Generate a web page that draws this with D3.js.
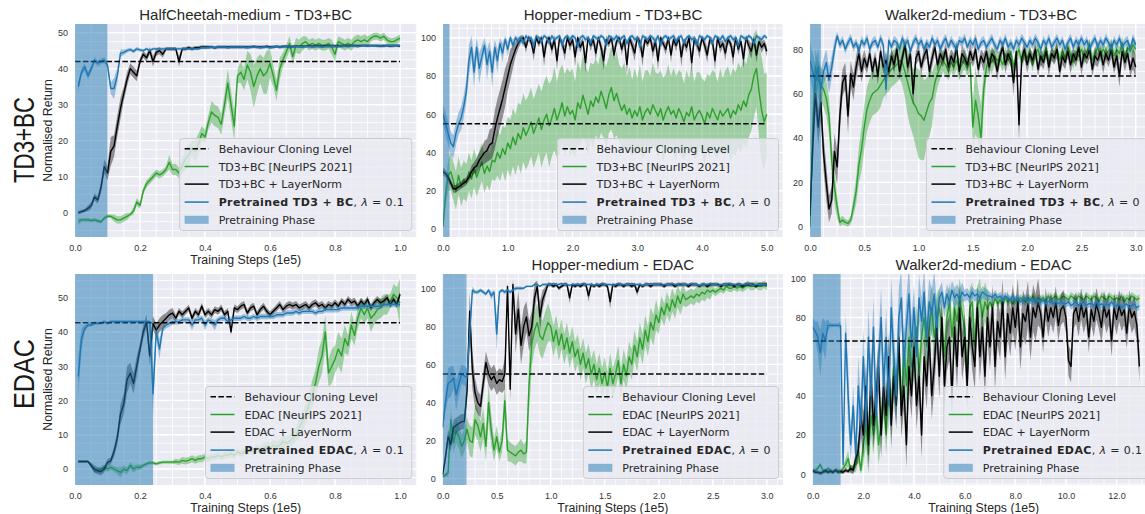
<!DOCTYPE html>
<html>
<head>
<meta charset="utf-8">
<script src="https://cdn.jsdelivr.net/npm/d3@7/dist/d3.min.js"></script>
<style>
html,body{margin:0;padding:0;background:#fff;}
svg{display:block;}
</style>
</head>
<body>
<svg id="chart" width="1145" height="514" xmlns="http://www.w3.org/2000/svg"></svg>
<script>
// ================= DATA =================
// --- HalfCheetah-medium TD3+BC (x: 0.01..1.00, step 0.01, units 1e5) ---
const hcTd3Green = [-2.5,-2,-2,-2,-2.2,-2,-2.3,-2.5,-1.5,-1,
-1,-1.5,-2,-2,-1.5,-1,-0.5,0.5,3,2,
6,8,9,10,11,10.5,11,12,14,12,
12,11,13,15,16,18,17,19,22,21,
25,28,27,26.5,24.5,30,36,30,24,38,
39,37,41,39,35,38,40,38,39,41.5,
38,34,40,42.5,44.7,47,43.3,46.5,46,47,
47.5,46.5,47,46.5,47,46.5,46.5,47,46,44,
47.5,47,46.5,47,46.5,47.5,48,47.5,48,47.5,
48.5,49,49,48.5,49,48,47.5,47.5,48,48.5];
const hcTd3GreenSd = [1,0.5,0.5,0.5,0.5,0.5,0.5,0.5,0.5,0.5,
0.5,1,1,1,1,1,0.5,1,1,1,
1,1,1,1,1,1,1,1,2,1.5,
1.5,1.5,2,3,3,2,3,3,2,2,
2,3,3,3,3,3,4,4,4,2,
3,3,4,5,6,5,4,5,6,4,
3,3,3,2,2,2,2,2,2,2,
1.5,1.5,1.5,1.5,1.5,1.5,1.5,1.5,2,2,
1.5,1.5,1.5,1.5,1.5,1.5,1.5,1.5,1.5,1.5,
1,1,1,1,1,1,1,1,1,1];
const hcTd3Black = [0,0.3,0.6,1.2,2,4.4,3.5,7,12.8,11,
17,18.5,24,29,33,37,40,39,38,42,
44,43,45,42,44.5,45,44,45.5,45.5,45.5,
45.5,42,45.5,45.5,45.8,45.5,45.8,45.8,46,46,
46,46,45.8,46,46,46,46,46,46,46,
46,46,46,46,46.2,46,46,46,46.2,46,
46,46.2,46,46.2,46.2,46,46.2,46.2,46.2,46.2,
46.2,46.3,46.2,46.3,46.3,46.2,46.3,46.3,46.3,46.3,
46.3,46.3,46.4,46.3,46.4,46.4,46.3,46.4,46.4,46.4,
46.4,46.4,46.4,46.3,46.4,46.4,46.3,46.4,46.4,46.3];
const hcTd3BlackSd = [0.5,0.5,0.5,0.8,1,1,1,1.5,2,2,
4,3,3,3,2,2,1.5,1.5,1.5,1,
1,1,1,1.5,1,1,1,0.5,0.5,0.5,
0.5,1.5,0.5,0.5,0.5,0.5,0.5,0.5,0.5,0.5,
0.4,0.4,0.4,0.4,0.4,0.4,0.4,0.4,0.4,0.4,
0.4,0.4,0.4,0.4,0.4,0.4,0.4,0.4,0.4,0.4,
0.4,0.4,0.4,0.4,0.4,0.4,0.4,0.4,0.4,0.4,
0.4,0.4,0.4,0.4,0.4,0.4,0.4,0.4,0.4,0.4,
0.4,0.4,0.4,0.4,0.4,0.4,0.4,0.4,0.4,0.4,
0.4,0.4,0.4,0.4,0.4,0.4,0.4,0.4,0.4,0.4];
const hcTd3Blue = [35,39,40.5,38,40,42.4,41.5,42,42.4,41,
34.5,34.5,38,44.3,44.5,45,45.3,44.8,45.5,45.2,
45,45.5,45,45.5,45.5,45.5,45.5,45.5,45.5,45.5,
45.5,45.5,45.5,45.5,45.5,45.5,45.5,45.5,45.8,45.8,
45.8,46,45.8,46,46,46,45.8,46,46,46,
46,46,45.8,46,46,46,45.8,46,46,45.8,
46,46.2,46,46,46.2,46,46,46.2,46.2,46,
46.2,46.2,46,46.2,46.2,46,46.2,46.2,46.3,46.2,
46.2,46.3,46.3,46.2,46.4,46.3,46.2,46.4,46.4,46.3,
46.4,46.4,46.3,46.4,46.2,46.5,46.4,46.3,46.5,46.4];
const hcTd3BlueSd = [1.5,1,1,1,1,0.8,0.8,0.8,0.8,0.8,
1.5,3,2,1,0.8,0.5,0.5,0.5,0.5,0.5,
0.4,0.4,0.4,0.4,0.4,0.4,0.4,0.4,0.4,0.4,
0.4,0.4,0.4,0.4,0.4,0.4,0.4,0.4,0.4,0.4,
0.4,0.4,0.4,0.4,0.4,0.4,0.4,0.4,0.4,0.4,
0.4,0.4,0.4,0.4,0.4,0.4,0.4,0.4,0.4,0.4,
0.4,0.4,0.4,0.4,0.4,0.4,0.4,0.4,0.4,0.4,
0.4,0.4,0.4,0.4,0.4,0.4,0.4,0.4,0.4,0.4,
0.4,0.4,0.4,0.4,0.4,0.4,0.4,0.4,0.4,0.4,
0.4,0.4,0.4,0.4,0.4,0.4,0.4,0.4,0.4,0.4];

// --- Hopper-medium TD3+BC (x: 0..5.0, step 0.04) ---
const hopTd3Green = [1,18,28,30,25,20,28,22,26,24,
30,26,32,27,31,35,29,33,30,36,
35,40,37,42,39,45,42,48,44,50,
47,53,49,52,56,50,54,58,52,57,
60,54,58,63,57,61,66,59,64,60,
62,57,66,63,70,65,60,67,64,69,
66,72,68,63,70,74,67,71,66,62,
65,60,63,58,62,59,64,57,61,63,
60,65,62,59,63,57,61,64,60,62,
58,63,60,56,61,59,64,57,60,62,
59,55,61,58,63,60,57,62,59,61,
63,58,62,60,65,62,67,64,70,73,
80,84,72,62,56,60];
const hopTd3GreenSd = [1,6,8,10,10,10,10,10,10,10,
10,10,10,10,10,10,10,10,10,10,
10,12,12,12,14,14,15,15,16,16,
18,18,18,18,18,18,18,18,20,20,
20,22,20,22,20,22,20,22,20,22,
22,20,22,20,22,20,22,20,22,20,
20,22,20,22,20,22,20,22,20,22,
22,20,22,20,22,20,22,20,22,20,
20,22,20,22,20,22,20,22,20,22,
22,20,22,20,22,20,22,20,22,20,
20,22,20,22,20,22,20,22,20,22,
22,22,22,22,22,22,22,22,22,22,
22,20,25,28,25,22];
const hopTd3Black = [30,29,27,24,21,21,22,23,24,25,
27,30,32,33,36,38,40,41,44,45,
52,58,63,68,74,80,86,90,94,97,
99,100,95,100,98,92,100,97,100,90,
98,100,94,99,88,100,97,92,100,96,
99,90,100,95,98,87,100,96,99,92,
100,95,88,99,97,100,91,98,100,94,
99,86,100,96,92,100,98,90,99,97,
100,93,98,88,100,97,94,100,91,99,
96,100,90,98,95,100,87,99,97,93,
100,96,91,99,98,88,100,95,97,92,
99,97,90,100,94,98,89,100,96,93,
99,91,98,95,97,93];
const hopTd3BlackSd = [2,2,2,2,2,2,2,2,2,2,
2,3,3,4,4,5,6,6,8,8,
10,10,10,10,10,8,8,6,4,3,
2,1.5,3,1.5,2,4,1.5,2,1.5,5,
2,1.5,3,2,5,1.5,2,4,1.5,3,
2,5,1.5,3,2,5,1.5,3,2,4,
1.5,3,5,2,2,1.5,4,2,1.5,3,
2,5,1.5,3,4,1.5,2,5,2,2,
1.5,4,2,5,1.5,2,3,1.5,4,2,
3,1.5,5,2,3,1.5,5,2,2,4,
1.5,3,4,2,2,5,1.5,3,2,4,
2,2,5,1.5,3,2,5,1.5,3,4,
2,4,2,3,2,3];
const hopTd3Blue = [60,55,50,45,43,50,55,58,64,72,
88,95,82,95,84,90,96,86,93,82,
95,88,97,92,99,94,100,96,100,98,
100,97,101,99,100,96,101,100,98,101,
100,97,101,99,100,101,96,100,101,99,
101,100,95,100,101,99,100,97,101,100,
99,101,100,96,101,100,99,101,98,100,
101,97,100,101,99,100,95,101,100,99,
101,100,98,101,96,100,101,99,100,101,
98,100,101,97,100,101,99,100,96,101,
100,99,101,100,97,101,100,99,101,98,
100,101,99,100,96,101,100,99,101,100,
97,101,100,99,101,100];
const hopTd3BlueSd = [5,6,6,6,6,6,6,6,6,6,
8,6,8,5,8,6,4,8,5,8,
4,6,3,5,2,4,1.5,3,1.5,2,
1.5,2,1,1.5,1,3,1,1,2,1,
1,2,1,1.5,1,1,3,1,1,1.5,
1,1,3,1,1,1.5,1,2,1,1,
1.5,1,1,3,1,1,1.5,1,2,1,
1,2,1,1,1.5,1,3,1,1,1.5,
1,1,2,1,3,1,1,1.5,1,1,
2,1,1,2,1,1,1.5,1,3,1,
1,1.5,1,1,2,1,1,1.5,1,2,
1,1,1.5,1,3,1,1,1.5,1,1,
2,1,1,1.5,1,1];

// --- Walker2d-medium TD3+BC (x: 0..3.0, step 0.025) ---
const wkTd3Green = [0,45,72,66,64,62,58,50,30,18,
9,2,3,2,1.5,3,9,16,28,35,
45,53,57,60,61,62,64,66,68,69,
71,72,73,75,74,70,65,60,56,54,
51,50,48,52,56,58,65,69,72,75,
73,70,74,72,75,71,73,76,72,74,
45,57,50,40,62,72,76,74,77,75,
76,73,78,75,79,72,77,80,74,78,
76,79,73,78,80,75,77,81,74,78,
77,80,75,79,76,81,78,74,79,77,
80,76,79,82,75,78,81,77,80,78,
79,82,77,80,78,83,76,81,79,82,
80];
const wkTd3GreenSd = [0,10,8,8,8,8,8,8,8,8,
5,2,2,1.5,1.5,2,4,6,8,10,
10,10,10,10,10,10,10,8,8,8,
8,8,8,8,10,12,15,15,15,18,
20,20,18,15,15,12,8,6,5,5,
5,4,4,4,4,5,4,5,4,4,
12,15,12,15,8,5,5,5,4,4,
3,3,3,3,3,3,3,3,3,3,
3,3,3,3,3,3,3,3,3,3,
3,3,3,3,3,3,3,3,3,3,
3,3,3,3,3,3,3,3,3,3,
3,3,3,3,3,3,3,3,3,3,
3];
const wkTd3Black = [5,36,60,45,56,33,20,8,12,34,
27,50,65,68,50,69,63,72,78,70,
76,72,78,70,76,68,79,72,75,70,
77,73,80,70,76,82,72,78,60,76,
79,72,77,80,70,76,81,73,78,75,
80,72,77,74,81,70,78,76,73,79,
75,80,71,77,74,79,72,78,76,70,
77,81,73,78,75,65,79,46,76,80,
73,78,75,80,71,77,74,79,72,78,
76,80,70,77,74,79,73,78,75,81,
72,78,76,80,71,77,75,79,73,78,
75,80,72,77,68,79,74,78,71,76,
72];
const wkTd3BlackSd = [2,10,8,8,8,8,8,6,6,8,
8,8,6,6,8,6,6,5,5,5,
4,3,3,4,3,4,3,3,4,3,
3,4,3,4,3,3,4,3,6,3,
4,3,3,4,3,4,3,3,4,3,
3,4,3,4,3,3,4,3,3,4,
3,4,3,3,4,3,4,3,3,4,
3,3,4,3,3,6,3,8,3,4,
4,3,3,4,3,4,3,3,4,3,
3,4,3,4,3,3,4,3,3,4,
4,3,3,4,3,4,3,3,4,3,
3,4,3,4,5,3,4,3,3,5,
5];
const wkTd3Blue = [75,70,65,72,62,70,74,66,72,80,
86,82,84,80,83,85,81,83,79,84,
82,85,80,83,84,81,85,82,62,84,
81,84,83,80,85,82,84,79,83,85,
82,84,80,83,81,85,82,84,80,83,
85,81,84,82,80,84,83,85,81,84,
82,85,80,83,84,81,83,85,82,80,
84,82,85,81,83,80,84,82,85,83,
81,84,82,85,83,80,84,82,85,81,
83,85,82,84,80,83,85,81,84,82,
85,82,84,80,83,85,81,84,82,85,
83,80,84,82,85,81,83,84,80,85,
82];
const wkTd3BlueSd = [8,8,8,8,8,6,6,6,5,4,
2,2,2,2,2,2,2,2,2,2,
2,2,2,2,2,2,2,2,6,2,
2,2,2,2,2,2,2,2,2,2,
2,2,2,2,2,2,2,2,2,2,
2,2,2,2,2,2,2,2,2,2,
2,2,2,2,2,2,2,2,2,2,
2,2,2,2,2,2,2,2,2,2,
2,2,2,2,2,2,2,2,2,2,
2,2,2,2,2,2,2,2,2,2,
2,2,2,2,2,2,2,2,2,2,
2,2,2,2,2,2,2,2,2,2,
2];

// --- HalfCheetah-medium EDAC (x: 0.01..1.00, step 0.01) ---
const hcEdacGreen = [2.2,2.2,2.2,2.2,1,-0.5,-0.5,0,0.5,0,
0.5,0,-0.5,-1,0,-0.5,1,0,0.5,0.5,
1,1.5,1.8,1.8,1.5,1.8,2,2,2,2,
2.2,2,2.5,2.3,2.5,3,2.5,3,3,3.5,
3,3.5,3.5,4,3.5,4,4,4.5,4,5,
4.5,5,5,5.5,5,6,5.5,6,6.5,6,
7,6.5,7,8,7.5,8,9,10,12,14,
16,19,22,25,30,33,40,28,30,32,
35,33,38,36,42,39,44,47,45,47,
44,45,46.5,47,48,48,49,51,50,48.5];
const hcEdacGreenSd = [0.3,0.3,0.3,0.3,0.5,0.8,0.8,0.8,0.8,0.8,
0.8,0.8,1,1.5,1,1,1,1,0.8,0.8,
0.5,0.5,0.5,0.5,0.5,0.5,0.5,0.5,0.5,0.5,
0.8,0.8,1,1,1,1,1,1,1,1,
1,1,1,1,1,1,1,1,1,1,
1,1,1,1,1,1,1,1.5,1.5,1.5,
1.5,1.5,1.5,2,2,2,2,2,3,3,
3,3,4,4,5,5,5,4,5,4,
5,5,4,3,4,3,3,3,3,3,
4,3,3,3,3,3,2,3,3,7];
const hcEdacBlack = [2.2,2.2,2.2,2.2,1,0,-0.5,-0.8,0,1.9,
2.4,5,9,16,19,26,28,25,30,35,
40,43,33,42.5,40.5,42,43,44,45,45.5,
44,46,45,46,47,44,46,45,47.5,45,
46,45,46.5,46,47,45,46,40,47,46.5,
47.5,48,45.5,47,47.5,45,46.5,47.5,46,45,
46,47,48,46.5,47.5,48,47.5,48,47,47.5,
48,47,48,48.5,47.5,48,47,48,47.5,48.5,
47.5,49,48,49.5,48.5,49,47.5,49,48,49.5,
47,48.5,49.5,48.5,49,50,48,49.5,48,51];
const hcEdacBlackSd = [0.3,0.3,0.3,0.3,0.8,1,1,1,1,1,
1,1.5,2,3,3,4,3,3,3,2,
2,2,3,2,2,2,2,1.5,1.5,1.5,
1,1,1,1,1,1,1,1,1,1,
1,1,1,1,1,1,1,1,1,1,
1,1,1,1,1,1,1,1,1,1,
1,1,1,1,1,1,1,1,1,1,
1,1,1,1,1,1,1,1,1,1,
1,1,1,1,1,1,1,1,1,1,
1,1,1,1,1,1,1,1,1,1];
const hcEdacBlue = [27,38,41,42,42,42.5,42.5,42.5,43,42.5,
43,43,43,43,43,43,43,43,43,43,
43,43,43,22,40,35,41,42,42.5,43,
43,43,43.5,43.5,43.5,42,43.5,43.5,44,42,
43.5,43,42,43.5,44,44,43,43.5,44,44,
44,44.5,44,44,44.5,44,44.5,44.5,44.5,44.5,
44.5,45,45,45,45.5,45.5,45.5,46,45.5,46,
46,46,46,45.5,46,46,46.5,46.5,46.5,46.5,
46.5,47,47,47,47,47,47,47.5,47.5,47.5,
47.5,47.5,47.5,47.5,48,48,48,48,48,48];
const hcEdacBlueSd = [6,3,1,0.5,0.5,0.5,0.5,0.5,0.5,0.5,
0.5,0.5,0.5,0.5,0.5,0.5,0.5,0.5,0.5,0.5,
0.5,0.5,0.5,6,2,3,1,1,1,1,
0.8,0.8,0.8,0.8,0.8,1.5,0.8,0.8,0.8,1.5,
0.8,1,1.5,0.8,0.8,0.8,1,0.8,0.8,0.8,
0.8,0.8,0.8,0.8,0.8,0.8,0.8,0.8,0.8,0.8,
0.8,0.8,0.8,0.8,0.8,0.8,0.8,0.8,0.8,0.8,
0.8,0.8,0.8,0.8,0.8,0.8,0.8,0.8,0.8,0.8,
0.8,0.8,0.8,0.8,0.8,0.8,0.8,0.8,0.8,0.8,
0.8,0.8,0.8,0.8,0.8,0.8,0.8,0.8,0.8,0.8];

// --- Hopper-medium EDAC (x: 0..3.0, step 0.025) ---
const hopEdacGreen = [1,2,3,31,19,25,22,17,20,26,
20,19,31,28,22,29,17,40,25,15,
22,14,20,41,15,14,13,12,14,15,
13,14,50,71,78,82,75,73,78,82,
80,72,78,70,76,68,74,66,72,64,
68,60,66,58,63,55,60,52,58,50,
56,48,58,50,55,62,50,60,54,64,
60,70,64,74,68,78,72,82,78,86,
82,90,86,92,88,94,90,96,92,97,
94,95,96,95,97,96,98,97,99,98,
99,98,99,100,99,101,100,100,101,100,
101,100,101,102,101,101,102,101,101,102,
101];
const hopEdacGreenSd = [0.5,1,2,6,6,6,6,6,6,6,
8,8,8,8,8,8,8,10,8,6,
6,5,6,10,6,5,5,5,5,6,
5,6,15,12,10,10,10,10,10,10,
8,8,8,8,8,8,8,8,8,8,
8,8,8,8,8,8,8,8,8,8,
8,8,8,8,8,8,8,8,8,8,
8,8,8,8,8,8,8,8,8,8,
6,6,6,6,6,6,6,6,6,6,
4,4,4,4,4,4,4,4,4,4,
2,2,2,2,2,2,2,2,2,2,
2,2,2,2,2,2,2,2,2,2,
2];
const hopEdacBlack = [2,11,22,18,27,28,29,30,30,46,
88,57,45,40,38,50,61,55,52,54,
50,52,51,55,101,47,102,76,89,70,
80,85,75,80,95,101,85,94,98,102,
102,101,102,100,101,102,102,95,102,101,
102,101,102,102,96,102,101,102,101,102,
102,101,93,102,101,102,102,101,102,102,
101,102,98,102,101,102,102,101,102,102,
102,102,101,102,102,102,101,102,102,102,
102,101,102,102,102,101,102,102,101,102,
102,102,102,101,102,102,102,102,101,102,
102,101,102,102,102,102,101,102,102,102,
102];
const hopEdacBlackSd = [1,3,4,4,4,4,4,4,4,6,
10,10,8,6,6,6,6,6,6,6,
6,6,6,8,3,6,3,10,10,10,
10,8,8,8,8,3,8,5,3,1,
1,1,1,1,1,1,1,3,1,1,
1,1,1,1,3,1,1,1,1,1,
1,1,4,1,1,1,1,1,1,1,
1,1,2,1,1,1,1,1,1,1,
1,1,1,1,1,1,1,1,1,1,
1,1,1,1,1,1,1,1,1,1,
1,1,1,1,1,1,1,1,1,1,
1,1,1,1,1,1,1,1,1,1,
1];
const hopEdacBlue = [27,40,50,51,53,44,50,55,54,53,
76,99,98,98,99,98,97,99,96,98,
76,98,99,98,99,98,99,100,100,100,
100,101,101,101,102,102,101,102,102,102,
102,102.5,102,102,102.5,102,102,101.5,102,102,
102,102,102.5,102,102,102,101.5,102,102,102.5,
102,102,102,101.5,102,102.5,102,102,102,102,
102.5,102,102,102,101.5,102,102,102.5,102,102,
102,101.5,102,102,102,102.5,102,102,101.5,102,
102,102,102.5,102,102,101.5,102,102,102,102.5,
102,102,101.5,102,102,102,102.5,102,102,101.5,
102,102,102,102.5,102,101.5,102,102,102,102,
101.5];
const hopEdacBlueSd = [2,5,8,8,6,8,6,5,5,5,
10,2,1,1,1,1,1,1,2,1,
10,1,1,1,1,1,1,1,1,1,
0.5,0.5,0.5,0.5,0.5,0.5,0.5,0.5,0.5,0.5,
0.5,0.5,0.5,0.5,0.5,0.5,0.5,0.5,0.5,0.5,
0.5,0.5,0.5,0.5,0.5,0.5,0.5,0.5,0.5,0.5,
0.5,0.5,0.5,0.5,0.5,0.5,0.5,0.5,0.5,0.5,
0.5,0.5,0.5,0.5,0.5,0.5,0.5,0.5,0.5,0.5,
0.5,0.5,0.5,0.5,0.5,0.5,0.5,0.5,0.5,0.5,
0.5,0.5,0.5,0.5,0.5,0.5,0.5,0.5,0.5,0.5,
0.5,0.5,0.5,0.5,0.5,0.5,0.5,0.5,0.5,0.5,
0.5,0.5,0.5,0.5,0.5,0.5,0.5,0.5,0.5,0.5,
0.5];

// --- Walker2d-medium EDAC (x: 0..12.9, step 0.1) ---
const wkEdacGreen = [1,2,3,5,2,1,3,2,1,2,
2,1,3,5,8,2,3,5,12,2,
15,25,10,30,20,35,15,25,40,20,
45,30,55,40,60,35,65,45,70,55,
60,75,50,70,80,65,75,85,70,80,
85,75,60,80,88,70,85,78,90,82,
75,50,85,88,65,86,90,80,88,84,
88,85,90,87,89,86,90,88,89,87,
89,88,90,89,88,90,89,91,88,90,
89,90,88,91,89,90,91,89,90,91,
90,89,91,90,89,91,90,89,91,90,
89,91,90,88,91,90,89,91,90,89,
90,89,91,88,90,89,91,90,89,90];
const wkEdacGreenSd = [1,1,1,1,1,1,1,1,1,1,
1,1,2,3,4,2,2,4,6,2,
10,10,10,10,10,10,10,10,10,10,
12,12,12,12,12,12,12,12,12,12,
12,12,12,12,12,12,12,12,12,12,
10,10,10,10,10,10,10,10,10,10,
10,10,10,10,10,10,10,10,10,10,
2,2,2,2,2,2,2,2,2,2,
2,2,2,2,2,2,2,2,2,2,
2,2,2,2,2,2,2,2,2,2,
2,2,2,2,2,2,2,2,2,2,
2,2,2,2,2,2,2,2,2,2,
2,2,2,2,2,2,2,2,2,2];
const wkEdacBlack = [2,1,1,0.5,1,2,1,1.5,1,2,
1,1.5,1,2,1.5,3,2,8,12,30,
20,45,15,50,25,40,55,20,45,30,
60,25,50,35,70,30,45,15,55,40,
65,35,50,20,60,45,70,40,55,75,
50,80,45,65,70,40,75,55,85,60,
70,45,80,65,55,85,60,75,50,80,
65,85,55,78,70,88,60,82,72,85,
75,88,65,82,78,87,70,85,80,88,
82,70,87,78,85,80,88,76,84,86,
80,58,55,82,85,78,87,80,85,70,
84,78,87,82,75,86,80,84,68,85,
79,86,81,84,72,86,80,83,76,55];
const wkEdacBlackSd = [1,1,1,1,1,1,1,1,1,1,
1,1,1,1,1,2,2,4,6,10,
12,12,12,12,12,12,12,12,12,12,
12,12,12,12,12,12,12,12,12,12,
12,12,12,12,12,12,12,12,12,12,
12,12,12,12,12,12,12,12,12,12,
12,12,12,12,12,12,12,12,12,12,
12,12,12,12,12,12,12,12,12,12,
12,12,12,12,12,12,12,12,12,12,
8,8,8,8,8,8,8,8,8,8,
8,8,8,8,8,8,8,8,8,8,
8,8,8,8,8,8,8,8,8,8,
8,8,8,8,8,8,8,8,8,8];
const wkEdacBlue = [75,73,70,62,72,68,76,76,76,76,
76,76,5,72,40,15,35,10,45,25,
60,25,70,40,75,30,55,80,45,70,
35,85,60,40,80,90,55,75,92,65,
85,60,90,78,93,70,88,82,92,75,
90,93,85,92,88,94,90,92,89,93,
91,92,90,93,91,92,90,93,92,91,
91,90,92,90,91,89,91,90,89,91,
89,90,88,89,90,88,89,88,89,88,
88,89,87,88,89,87,88,87,88,87,
87,88,86,87,88,86,87,88,86,87,
87,86,88,86,87,86,87,86,88,86,
86,87,85,86,87,85,86,87,85,86];
const wkEdacBlueSd = [5,5,8,12,8,10,3,1,1,1,
1,2,5,10,15,8,10,8,15,12,
15,15,15,15,15,15,15,15,15,15,
15,15,15,15,15,15,15,15,15,15,
12,12,12,12,12,12,12,12,12,12,
5,5,5,5,5,5,5,5,5,5,
3,3,3,3,3,3,3,3,3,3,
2,2,2,2,2,2,2,2,2,2,
2,2,2,2,2,2,2,2,2,2,
2,2,2,2,2,2,2,2,2,2,
2,2,2,2,2,2,2,2,2,2,
2,2,2,2,2,2,2,2,2,2,
2,2,2,2,2,2,2,2,2,2];

// --- axis tick labels, reference levels ---
const hcXTicks = [0, 0.2, 0.4, 0.6, 0.8, 1.0];
const hcYTicks = [0, 10, 20, 30, 40, 50];
const hopTd3XTicks = [0, 1, 2, 3, 4, 5];
const hopYTicks = [0, 20, 40, 60, 80, 100];
const wkTd3XTicks = [0, 0.5, 1, 1.5, 2, 2.5, 3];
const wkTd3YTicks = [0, 20, 40, 60, 80];
const hopEdacXTicks = [0, 0.5, 1, 1.5, 2, 2.5, 3];
const wkEdacXTicks = [0, 2, 4, 6, 8, 10, 12];
const wkEdacYTicks = [0, 20, 40, 60, 80, 100];
const bcLevels = [42, 55, 68, 42.7, 55, 68];
const pretrainEnd = [0.1, 0.1, 0.1, 0.24, 0.22, 1.1];
const evalStart = [0.01, 0, 0, 0.01, 0, 0];
const evalStep = [0.01, 0.04, 0.025, 0.01, 0.025, 0.1];
const titles = ['HalfCheetah-medium - TD3+BC', 'Hopper-medium - TD3+BC', 'Walker2d-medium - TD3+BC',
                '', 'Hopper-medium - EDAC', 'Walker2d-medium - EDAC'];
const xLabelShown = [true, false, false, true, true, true];
const lambdas = ['0.1', '0', '0', '0.1', '0', '0.1'];

// ================= LAYOUT / CONFIG =================
const panels = [
  {algo:'TD3+BC', bold:'Pretrained TD3 + BC', left:75, right:416.3, top:24, bottom:237, xMax:1.05, yDom:[-6.75,52.4],
   xTicks:hcXTicks, yTicks:hcYTicks, xMinor:0.05, yMinor:2.5,
   green:hcTd3Green, greenSd:hcTd3GreenSd, black:hcTd3Black, blackSd:hcTd3BlackSd, blue:hcTd3Blue, blueSd:hcTd3BlueSd, ylabel:true},
  {algo:'TD3+BC', bold:'Pretrained TD3 + BC', left:443, right:783, top:24, bottom:237, xMax:5.25, yDom:[-4.2,107.2],
   xTicks:hopTd3XTicks, yTicks:hopYTicks, xMinor:0.125, yMinor:5,
   green:hopTd3Green, greenSd:hopTd3GreenSd, black:hopTd3Black, blackSd:hopTd3BlackSd, blue:hopTd3Blue, blueSd:hopTd3BlueSd},
  {algo:'TD3+BC', bold:'Pretrained TD3 + BC', left:810, right:1152, top:24, bottom:237, xMax:3.15, yDom:[-4.6,91.4],
   xTicks:wkTd3XTicks, yTicks:wkTd3YTicks, xMinor:0.125, yMinor:5,
   green:wkTd3Green, greenSd:wkTd3GreenSd, black:wkTd3Black, blackSd:wkTd3BlackSd, blue:wkTd3Blue, blueSd:wkTd3BlueSd},
  {algo:'EDAC', bold:'Pretrained EDAC', left:75, right:416.3, top:274, bottom:485, xMax:1.05, yDom:[-4.67,56.9],
   xTicks:hcXTicks, yTicks:hcYTicks, xMinor:0.05, yMinor:2.5,
   green:hcEdacGreen, greenSd:hcEdacGreenSd, black:hcEdacBlack, blackSd:hcEdacBlackSd, blue:hcEdacBlue, blueSd:hcEdacBlueSd, ylabel:true},
  {algo:'EDAC', bold:'Pretrained EDAC', left:442.7, right:783, top:274, bottom:485, xMax:3.15, yDom:[-3.3,107.5],
   xTicks:hopEdacXTicks, yTicks:hopYTicks, xMinor:0.1, yMinor:5,
   green:hopEdacGreen, greenSd:hopEdacGreenSd, black:hopEdacBlack, blackSd:hopEdacBlackSd, blue:hopEdacBlue, blueSd:hopEdacBlueSd},
  {algo:'EDAC', bold:'Pretrained EDAC', left:812.7, right:1154.6, top:274, bottom:485, xMax:13.5, yDom:[-5.5,102.2],
   xTicks:wkEdacXTicks, yTicks:wkEdacYTicks, xMinor:0.5, yMinor:5,
   green:wkEdacGreen, greenSd:wkEdacGreenSd, black:wkEdacBlack, blackSd:wkEdacBlackSd, blue:wkEdacBlue, blueSd:wkEdacBlueSd}
];

const COL = {green:'#2ca02c', black:'#000000', blue:'#1f77b4'};
const BG = '#EAEAF2';
const SANS = "'Liberation Sans', Arial, Helvetica, sans-serif";
const LEG = "'DejaVu Sans', Verdana, sans-serif";
const TXT = '#262626';

const svg = d3.select('#chart');
const defs = svg.append('defs');
let warn = [];

function stepRange(lo, hi, s) {
  return d3.range(Math.ceil(lo / s - 1e-6), Math.floor(hi / s + 1e-6) + 1).map(i => +(i * s).toFixed(6));
}

panels.forEach((p, idx) => {
  const x = d3.scaleLinear().domain([0, p.xMax]).range([p.left, p.right]);
  const y = d3.scaleLinear().domain(p.yDom).range([p.bottom, p.top]);
  const W = p.right - p.left, H = p.bottom - p.top;
  const g = svg.append('g');
  const clipId = 'clip' + idx;
  defs.append('clipPath').attr('id', clipId).append('rect')
    .attr('x', p.left).attr('y', p.top).attr('width', W).attr('height', H);

  g.append('rect').attr('x', p.left).attr('y', p.top).attr('width', W).attr('height', H).attr('fill', BG);

  const grid = g.append('g').attr('clip-path', `url(#${clipId})`);
  stepRange(0, p.xMax, p.xMinor).forEach(v => grid.append('line')
    .attr('x1', x(v)).attr('x2', x(v)).attr('y1', p.top).attr('y2', p.bottom)
    .attr('stroke', '#fff').attr('stroke-width', 0.8));
  stepRange(p.yDom[0], p.yDom[1], p.yMinor).forEach(v => grid.append('line')
    .attr('y1', y(v)).attr('y2', y(v)).attr('x1', p.left).attr('x2', p.right)
    .attr('stroke', '#fff').attr('stroke-width', 0.8));
  p.xTicks.forEach(v => grid.append('line')
    .attr('x1', x(v)).attr('x2', x(v)).attr('y1', p.top).attr('y2', p.bottom)
    .attr('stroke', '#fff').attr('stroke-width', 1.3));
  p.yTicks.forEach(v => grid.append('line')
    .attr('y1', y(v)).attr('y2', y(v)).attr('x1', p.left).attr('x2', p.right)
    .attr('stroke', '#fff').attr('stroke-width', 1.3));

  const plot = g.append('g').attr('clip-path', `url(#${clipId})`);
  const xs = p.green.map((_, i) => evalStart[idx] + i * evalStep[idx]);
  ['green', 'black', 'blue'].forEach(k => {
    const m = p[k], sd = p[k + 'Sd'];
    if (m.length !== sd.length || m.length !== xs.length) warn.push(idx + k + ':' + m.length + '/' + sd.length + '/' + xs.length);
    const n = Math.min(m.length, sd.length, xs.length);
    const data = d3.range(n).map(i => ({x: xs[i], m: m[i], lo: m[i] - sd[i], hi: m[i] + sd[i]}));
    plot.append('path').datum(data)
      .attr('d', d3.area().x(d => x(d.x)).y0(d => y(d.lo)).y1(d => y(d.hi)))
      .attr('fill', COL[k]).attr('fill-opacity', 0.4).attr('stroke', 'none');
    plot.append('path').datum(data)
      .attr('d', d3.line().x(d => x(d.x)).y(d => y(d.m)))
      .attr('fill', 'none').attr('stroke', COL[k]).attr('stroke-width', 1.4).attr('stroke-linejoin', 'round');
  });

  plot.append('line').attr('x1', x(0)).attr('x2', x(xs[xs.length - 1]))
    .attr('y1', y(bcLevels[idx])).attr('y2', y(bcLevels[idx]))
    .attr('stroke', '#000').attr('stroke-width', 1.5).attr('stroke-dasharray', '5.5,2.4');

  plot.append('rect').attr('x', x(0)).attr('y', p.top).attr('width', x(pretrainEnd[idx]) - x(0)).attr('height', H)
    .attr('fill', COL.blue).attr('fill-opacity', 0.5);

  // axes
  const ax = g.append('g').attr('transform', `translate(0,${p.bottom})`)
    .call(d3.axisBottom(x).tickValues(p.xTicks).tickFormat(d3.format('.1f')).tickSize(0).tickPadding(7.6));
  ax.select('.domain').remove();
  ax.selectAll('text').attr('font-family', SANS).attr('font-size', 9).attr('fill', '#333');
  const ay = g.append('g').attr('transform', `translate(${p.left},0)`)
    .call(d3.axisLeft(y).tickValues(p.yTicks).tickFormat(d3.format('d')).tickSize(0).tickPadding(7));
  ay.select('.domain').remove();
  ay.selectAll('text').attr('font-family', SANS).attr('font-size', 9).attr('fill', '#333');

  const cx = (p.left + p.right) / 2;
  if (titles[idx]) {
    g.append('text').attr('x', cx).attr('y', p.top - 4.5).attr('text-anchor', 'middle')
      .attr('font-family', SANS).attr('font-size', 15).attr('fill', TXT).text(titles[idx]);
  }
  if (xLabelShown[idx]) {
    g.append('text').attr('x', cx).attr('y', p.bottom + 26.5).attr('text-anchor', 'middle')
      .attr('font-family', SANS).attr('font-size', 12.3).attr('fill', TXT).text('Training Steps (1e5)');
  }
  if (p.ylabel) {
    g.append('text').attr('transform', `translate(52,${(p.top + p.bottom) / 2}) rotate(-90)`)
      .attr('text-anchor', 'middle').attr('font-family', SANS).attr('font-size', 12.3).attr('fill', TXT)
      .text('Normalised Return');
  }

  // legend
  const lg = g.append('g');
  const box = lg.append('rect').attr('rx', 3).attr('ry', 3).attr('y', 0).attr('height', 92)
    .attr('fill', BG).attr('fill-opacity', 0.8).attr('stroke', '#cccccc').attr('stroke-width', 1);
  const rows = [10.3, 28.0, 45.6, 63.6, 81.3];
  const labels = ['Behaviour Cloning Level', p.algo + ' [NeurIPS 2021]', p.algo + ' + LayerNorm', null, 'Pretraining Phase'];
  const widths = [];
  rows.forEach((ry, i) => {
    if (i === 0) {
      lg.append('line').attr('x1', 5).attr('x2', 29).attr('y1', ry).attr('y2', ry)
        .attr('stroke', '#000').attr('stroke-width', 1.5).attr('stroke-dasharray', '5.5,2.4');
    } else if (i === 4) {
      lg.append('rect').attr('x', 5).attr('y', ry - 4).attr('width', 24).attr('height', 8)
        .attr('fill', COL.blue).attr('fill-opacity', 0.5);
    } else {
      const c = i === 1 ? COL.green : i === 2 ? COL.black : COL.blue;
      lg.append('line').attr('x1', 5).attr('x2', 29).attr('y1', ry).attr('y2', ry)
        .attr('stroke', c).attr('stroke-width', 1.5);
    }
    const t = lg.append('text').attr('x', 39).attr('y', ry + 4).attr('font-family', LEG).attr('font-size', 11).attr('fill', TXT);
    if (i === 3) {
      t.append('tspan').attr('font-weight', 'bold').text(p.bold);
      t.append('tspan').text(', ');
      t.append('tspan').attr('font-style', 'italic').text('λ');
      t.append('tspan').text(' = ' + lambdas[idx]);
      // mathtext-style wider operator spacing
      const nat = t.node().getComputedTextLength();
      t.attr('textLength', nat * 1.06).attr('lengthAdjust', 'spacing');
      widths.push(nat * 1.06);
    } else {
      t.text(labels[i]);
      widths.push(t.node().getComputedTextLength());
    }
  });
  const maxW = d3.max(widths);
  const lw = 39 + maxW + 8;
  box.attr('x', 0).attr('width', lw);
  lg.attr('transform', `translate(${p.right - 4.5 - lw},${p.bottom - 6.5 - 92})`);
});

// row labels
svg.append('text').attr('transform', 'translate(34,140) rotate(-90)').attr('text-anchor', 'middle')
  .attr('font-family', SANS).attr('font-size', 29).attr('fill', '#1a1a1a')
  .attr('textLength', 86).attr('lengthAdjust', 'spacingAndGlyphs').text('TD3+BC');
svg.append('text').attr('transform', 'translate(34,374) rotate(-90)').attr('text-anchor', 'middle')
  .attr('font-family', SANS).attr('font-size', 29).attr('fill', '#1a1a1a')
  .attr('textLength', 70).attr('lengthAdjust', 'spacingAndGlyphs').text('EDAC');

if (warn.length) svg.append('text').attr('x', 5).attr('y', 510).attr('fill', 'red').attr('font-size', 10).text(warn.join(' | '));
</script>
</body>
</html>
